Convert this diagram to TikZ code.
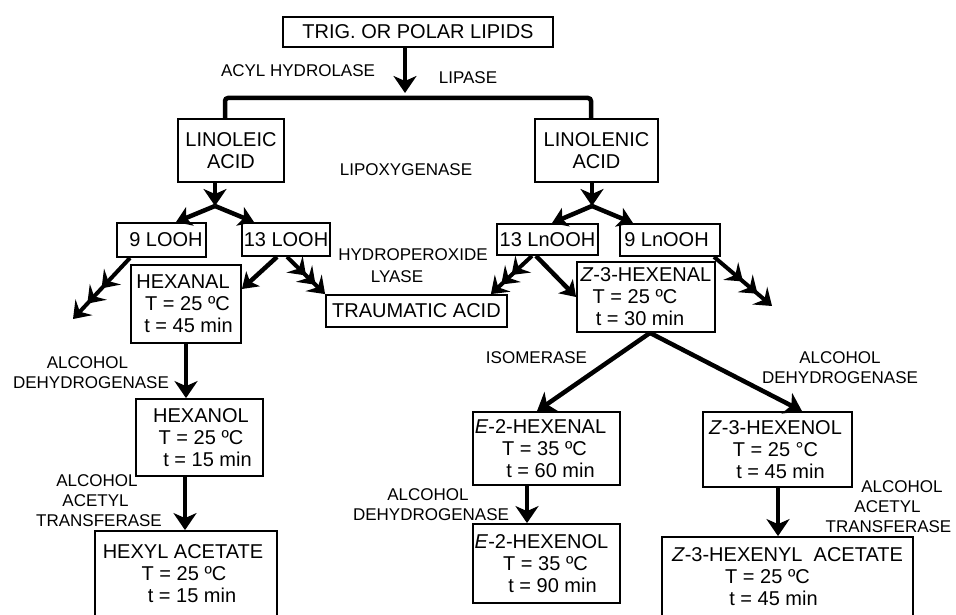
\documentclass[tikz,border=0pt]{standalone}
\usepackage{fontspec}
\setmainfont{Liberation Sans}
\usetikzlibrary{arrows.meta,decorations.markings}
\newcommand\mvl[2]{\kern#1pt #2\kern-#1pt}
\tikzset{
  mh/.tip={Stealth[length=16pt,width=23pt,inset=6pt]},
  bh/.tip={Stealth[length=17pt,width=23pt,inset=5pt]},
  sh/.tip={Stealth[length=15pt,width=20pt,inset=4pt]},
  box/.style={draw, line width=1.8pt, inner sep=0pt, align=center, font=\fontsize{20}{22}\selectfont},
  lab/.style={align=center, inner sep=0pt, font=\fontsize{17}{20}\selectfont},
  big/.style={line width=4.5pt, -{bh}},
  branch/.style={line width=4.5pt, -{sh}},
  multi/.style={line width=4pt, -{mh}, postaction={decorate},
    decoration={markings, mark=at position 0.5 with {\arrow{mh}}, mark=at position 0.75 with {\arrow{mh}}}},
}
\begin{document}
\begin{tikzpicture}[x=1pt,y=-1pt]
\clip (0,0) rectangle (956,615);
\fill[white] (0,0) rectangle (956,615);
% boxes
\node[box, minimum width=270pt, minimum height=30pt] (top) at (418,32) {TRIG. OR POLAR LIPIDS};
\node[box, minimum width=106pt, minimum height=63pt] (linoleic) at (231,150.5) {LINOLEIC\\ACID};
\node[box, minimum width=123pt, minimum height=63pt] (linolenic) at (596.5,150.5) {LINOLENIC\\ACID};
\node[box, minimum width=89pt, minimum height=34pt] (looh9) at (161.5,240) {\mvl{4.5}{9 LOOH}};
\node[box, minimum width=88pt, minimum height=33pt] (looh13) at (286,239.5) {13 LOOH};
\node[box, minimum width=101pt, minimum height=31pt] (lnooh13) at (547.5,239.5) {13 LnOOH};
\node[box, minimum width=100pt, minimum height=32pt] (lnooh9) at (670,240) {\mvl{-3.5}{9 LnOOH}};
\node[box, minimum width=110pt, minimum height=78pt] (hexanal) at (186,304) {\mvl{-3}{HEXANAL}\\\mvl{1.5}{T = 25 ºC}\\\mvl{2.5}{t = 45 min}};
\node[box, minimum width=181pt, minimum height=32pt] (traumatic) at (416.5,311) {TRAUMATIC ACID};
\node[box, minimum width=138pt, minimum height=70pt] (z3hexenal) at (646,297) {\textit{Z}-3-HEXENAL\\\mvl{-11}{T = 25 ºC}\\\mvl{-6}{t = 30 min}};
\node[box, minimum width=127pt, minimum height=77pt] (hexanol) at (199.5,437.5) {\mvl{1.5}{HEXANOL}\\\mvl{1.5}{T = 25 ºC}\\\mvl{8}{t = 15 min}};
\node[box, minimum width=182pt, minimum height=86pt] (hexyl) at (186,574) {\mvl{-3}{HEXYL ACETATE}\\\mvl{-2}{T = 25 ºC}\\\mvl{6}{t = 15 min}};
\node[box, minimum width=147pt, minimum height=73pt] (e2hexenal) at (546.5,448.5) {\mvl{-6}{\textit{E}-2-HEXENAL}\\\mvl{-2}{T = 35 ºC}\\\mvl{4}{t = 60 min}};
\node[box, minimum width=147pt, minimum height=79pt] (e2hexenol) at (546.5,563.5) {\mvl{-5}{\textit{E}-2-HEXENOL}\\\mvl{-1}{T = 35 ºC}\\\mvl{6}{t = 90 min}};
\node[box, minimum width=149pt, minimum height=75pt] (z3hexenol) at (777.5,449.5) {\mvl{-2}{\textit{Z}-3-HEXENOL}\\\mvl{-2}{T = 25 °C}\\\mvl{3}{t = 45 min}};
\node[box, minimum width=251pt, minimum height=80pt] (z3hexenyl) at (787.5,577) {\textit{Z}-3-HEXENYL\ \ ACETATE\\\mvl{-20}{T = 25 ºC}\\\mvl{-14}{t = 45 min}};
% labels
\node[lab] (lacyl) at (298,71) {ACYL HYDROLASE};
\node[lab] (llip) at (468,78) {LIPASE};
\node[lab] (llox) at (406,170) {LIPOXYGENASE};
\node[lab] (lhpl) at (410,266) {\mvl{3}{HYDROPEROXIDE}\\[2pt]\mvl{-13}{LYASE}};
\node[lab] (ladh1) at (90,372.5) {\mvl{-2.5}{ALCOHOL}\\\mvl{1}{DEHYDROGENASE}};
\node[lab] (laat1) at (98,500.5) {\mvl{-1}{ALCOHOL}\\\mvl{-2.5}{ACETYL}\\\mvl{1}{TRANSFERASE}};
\node[lab] (liso) at (536.5,358) {ISOMERASE};
\node[lab] (ladh2) at (840,367.5) {ALCOHOL\\DEHYDROGENASE};
\node[lab] (ladh3) at (431,505) {\mvl{-3}{ALCOHOL}\\DEHYDROGENASE};
\node[lab] (laat2) at (892,507) {\mvl{10}{ALCOHOL}\\\mvl{-4.5}{ACETYL}\\\mvl{-3.5}{TRANSFERASE}};
% coordinates
\coordinate (a0) at (405,93);
\coordinate (bl) at (225,98);
\coordinate (br) at (591,98);
\coordinate (b1) at (215,206);
\coordinate (b2) at (592,206);
\coordinate (f1) at (73,319);
\coordinate (f2) at (772,306);
% connectors
\draw[big] ([xshift=-13pt]top.south) -- (a0);
\draw[line width=4.5pt, rounded corners=3pt] ([xshift=-6pt]linoleic.north) -- (bl) -- (br) -- ([xshift=-5.5pt]linolenic.north);
\draw[big] ([xshift=-16pt]linoleic.south) -- (b1);
\draw[branch] (b1) -- ([xshift=14.5pt]looh9.north);
\draw[branch] (b1) -- ([xshift=-32pt]looh13.north);
\draw[big] ([xshift=-4.5pt]linolenic.south) -- (b2);
\draw[branch] (b2) -- ([xshift=4.5pt]lnooh13.north);
\draw[branch] (b2) -- ([xshift=-37pt]lnooh9.north);
\draw[multi] ([xshift=-31.5pt]looh9.south) -- (f1);
\draw[branch] ([xshift=-9pt]looh13.south) -- ([yshift=15pt]hexanal.east);
\draw[multi] ([xshift=1pt]looh13.south) -- (traumatic.north west);
\draw[multi] ([xshift=-15.5pt]lnooh13.south) -- ([xshift=-17pt]traumatic.north east);
\draw[branch] ([xshift=-11.5pt]lnooh13.south) -- (z3hexenal.west);
\draw[multi] ([xshift=44pt]lnooh9.south) -- (f2);
\draw[big] (hexanal.south) -- ([xshift=-13.5pt]hexanol.north);
\draw[big] ([xshift=-14.5pt]hexanol.south) -- ([xshift=-1pt]hexyl.north);
\draw[big] ([xshift=4pt]z3hexenal.south) -- ([xshift=-9.5pt]e2hexenal.north);
\draw[big] ([xshift=4pt]z3hexenal.south) -- ([xshift=24.5pt]z3hexenol.north);
\draw[big] ([xshift=-19.5pt]e2hexenal.south) -- ([xshift=-19.5pt]e2hexenol.north);
\draw[big] ([xshift=0.5pt]z3hexenol.south) -- ([xshift=-9.5pt]z3hexenyl.north);
\end{tikzpicture}
\end{document}
